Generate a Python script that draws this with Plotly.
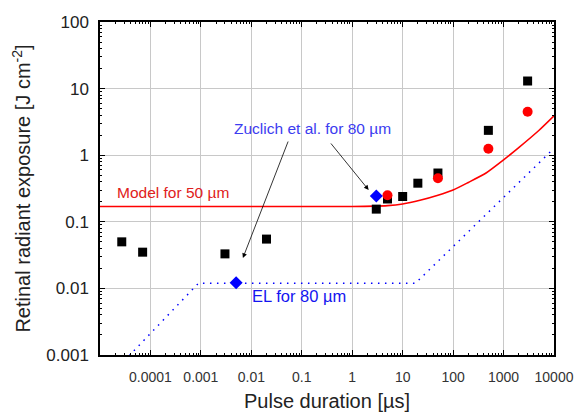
import numpy as np
import plotly.graph_objects as go

# ---- data ----
exp_t = [2.7e-5, 7e-5, 0.003, 0.02, 3, 5, 10, 20, 50, 500, 3000]          # black squares, pulse duration [us]
exp_h = [0.050, 0.035, 0.033, 0.055, 0.155, 0.22, 0.24, 0.38, 0.54, 2.36, 13.0]

red_t = [5, 50, 500, 3000]                                                  # red circles
red_h = [0.25, 0.45, 1.25, 4.5]

zuc_t = [3]                                                                 # Zuclich et al.
zuc_h = [0.245]
el_pt_t = [0.005]                                                           # EL point
el_pt_h = [0.0122]

model_t = [1e-5, 1, 5, 10, 22, 50, 100, 200, 450, 1000, 2000, 5000, 10000]
model_h = [0.17, 0.17, 0.175, 0.185, 0.21, 0.25, 0.30, 0.39, 0.54, 0.85, 1.3, 2.35, 3.9]

el_t = [1e-5, 9e-4, 18, 10000]
el_h = [0.00034, 0.012, 0.012, 1.27]

x_tickvals = [1e-4, 1e-3, 1e-2, 1e-1, 1, 10, 100, 1000, 10000]
x_ticktext = ["0.0001", "0.001", "0.01", "0.1", "1", "10", "100", "1000", "10000"]
y_tickvals = [0.001, 0.01, 0.1, 1, 10, 100]
y_ticktext = ["0.001", "0.01", "0.1", "1", "10", "100"]
minor_digits = [2, 3, 4, 5, 6, 7, 8, 9]

FONT = "Liberation Sans, Arial, sans-serif"

x_minor = [d * 10.0 ** e for e in range(-5, 4) for d in minor_digits]
y_minor = [d * 10.0 ** e for e in range(-3, 2) for d in minor_digits]

fig = go.Figure()
fig.add_trace(go.Scatter(x=el_t, y=el_h, mode="lines",
                         line=dict(color="#0000ff", width=1.5, dash="1.5px,5.5px"), showlegend=False))
fig.add_trace(go.Scatter(x=model_t, y=model_h, mode="lines",
                         line=dict(color="#ff0000", width=1.6, shape="spline", smoothing=0.6), showlegend=False))
fig.add_trace(go.Scatter(x=exp_t, y=exp_h, mode="markers",
                         marker=dict(symbol="square", size=9, color="black"), showlegend=False))
fig.add_trace(go.Scatter(x=red_t, y=red_h, mode="markers",
                         marker=dict(symbol="circle", size=10, color="#ff0000"), showlegend=False))
fig.add_trace(go.Scatter(x=zuc_t + el_pt_t, y=zuc_h + el_pt_h, mode="markers",
                         marker=dict(symbol="diamond", size=10, color="#0000ff"), showlegend=False))

L = np.log10
annos = [
    dict(x=L(2.0e-5), y=L(0.274), text="Model for 50 µm", xanchor="left", yanchor="middle",
         showarrow=False, font=dict(size=15.5, color="#e02020", family=FONT)),
    dict(x=L(0.0041), y=L(2.56), text="Zuclich et al. for 80 µm", xanchor="left", yanchor="middle",
         showarrow=False, font=dict(size=15.5, color="#3c3cf0", family=FONT)),
    dict(x=L(0.0093), y=L(0.0077), text="EL for 80 µm", xanchor="left", yanchor="middle",
         showarrow=False, font=dict(size=16.5, color="#1414f0", family=FONT)),
    dict(x=L(0.0068), y=L(0.0286), ax=L(0.055), ay=L(1.69), axref="x", ayref="y",
         text="", showarrow=True, arrowhead=2, arrowsize=1.2, arrowwidth=0.8, arrowcolor="black"),
    dict(x=L(2.12), y=L(0.30), ax=L(0.358), ay=L(1.58), axref="x", ayref="y",
         text="", showarrow=True, arrowhead=2, arrowsize=1.2, arrowwidth=0.8, arrowcolor="black"),
]

def axis_common(minor_vals):
    return dict(type="log", showline=True, linecolor="black", linewidth=1.5, mirror="allticks",
                ticks="inside", ticklen=5, tickwidth=1.2, tickcolor="black",
                showgrid=True, gridcolor="#c8c8c8", gridwidth=1, zeroline=False,
                tickmode="array", automargin=False,
                minor=dict(tickmode="array", tickvals=minor_vals, ticks="inside", ticklen=2.5,
                           tickwidth=1, tickcolor="black", showgrid=False))

fig.update_layout(
    width=583, height=414,
    margin=dict(l=100, r=29, t=22, b=59),
    paper_bgcolor="white", plot_bgcolor="white",
    font=dict(family=FONT, color="#222"),
    xaxis=dict(**axis_common(x_minor), range=[-5, 4], tickvals=x_tickvals, ticktext=x_ticktext,
               tickfont=dict(size=14, color="#333", family=FONT), ticklabelstandoff=8,
               title=dict(text="Pulse duration [µs]", font=dict(size=20, color="#222", family=FONT), standoff=10)),
    yaxis=dict(**axis_common(y_minor), range=[-3, 2], tickvals=y_tickvals, ticktext=y_ticktext,
               tickfont=dict(size=17, color="#222", family=FONT), ticklabelstandoff=6,
               title=dict(text="Retinal radiant exposure [J cm<sup>-2</sup>]",
                          font=dict(size=20, color="#222", family=FONT), standoff=10)),
    annotations=annos,
)

fig.write_html("out.html")
